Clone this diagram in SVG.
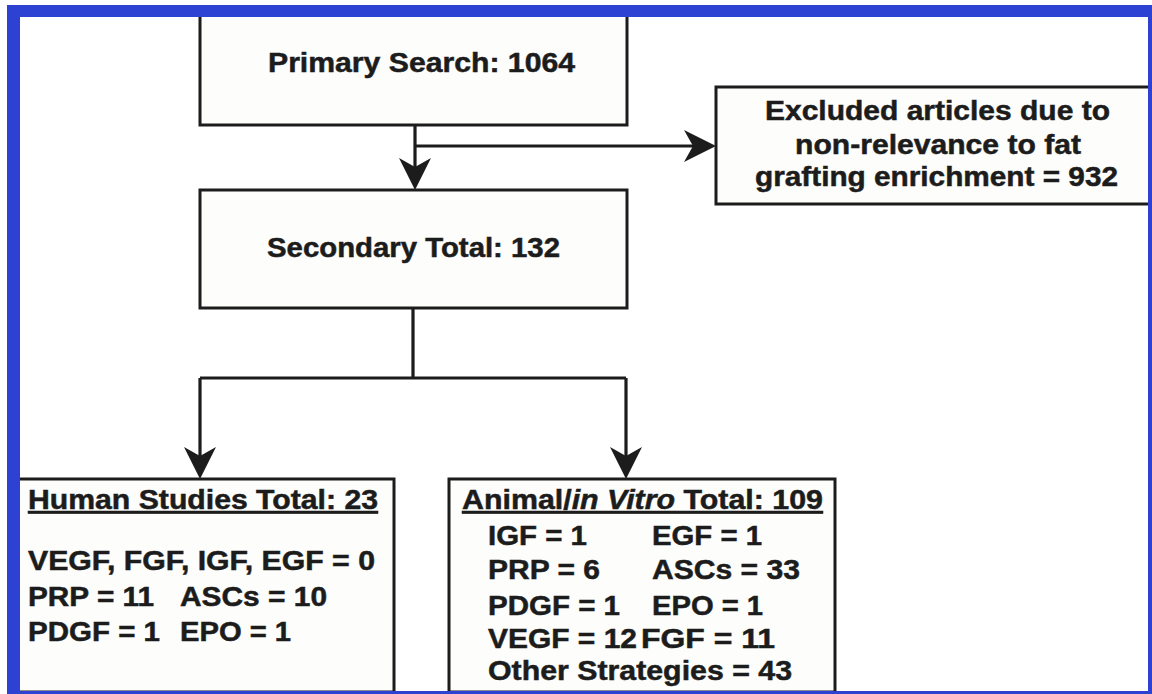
<svg xmlns="http://www.w3.org/2000/svg" width="1152" height="694" viewBox="0 0 1152 694">
<style>
.box{fill:#fdfdfb;stroke:#1c1c1c;stroke-width:3}
.t{font-family:"Liberation Sans",Arial,Helvetica,sans-serif;font-weight:bold;font-size:27px;fill:#1c1c1c;stroke:#1c1c1c;stroke-width:0.5}
.c{stroke:#1c1c1c;stroke-width:3.2;fill:none}
</style>
<defs>
<marker id="ah" markerUnits="userSpaceOnUse" markerWidth="34" markerHeight="34" refX="9" refY="16" orient="auto">
<path d="M0,0 L32,16 L0,32 L9,16 Z" fill="#1c1c1c"/>
</marker>
</defs>
<rect x="0" y="0" width="1152" height="694" fill="#ffffff"/>
<g id="connectors">
<path class="c" d="M415,125 V167" marker-end="url(#ah)"/>
<path class="c" d="M415,146 H693" marker-end="url(#ah)"/>
<path class="c" d="M413,308 V378 M200,378 H626"/>
<path class="c" d="M200,378 V456" marker-end="url(#ah)"/>
<path class="c" d="M626,378 V456" marker-end="url(#ah)"/>
</g>
<g id="primary">
<rect class="box" x="200" y="9" width="427" height="116"/>
<text class="t" x="421.5" y="72" text-anchor="middle" textLength="307" lengthAdjust="spacingAndGlyphs">Primary Search: 1064</text>
</g>
<g id="excluded">
<rect class="box" x="716" y="87" width="436" height="117"/>
<text class="t" x="937.5" y="120" text-anchor="middle" textLength="345" lengthAdjust="spacingAndGlyphs">Excluded articles due to</text>
<text class="t" x="938" y="154" text-anchor="middle" textLength="286" lengthAdjust="spacingAndGlyphs">non-relevance to fat</text>
<text class="t" x="936.5" y="186" text-anchor="middle" textLength="363" lengthAdjust="spacingAndGlyphs">grafting enrichment = 932</text>
</g>
<g id="secondary">
<rect class="box" x="200" y="190" width="427" height="118"/>
<text class="t" x="413.5" y="257" text-anchor="middle" textLength="293" lengthAdjust="spacingAndGlyphs">Secondary Total: 132</text>
</g>
<g id="human">
<rect class="box" x="12" y="479" width="382" height="213"/>
<text class="t" x="28" y="509" textLength="350" lengthAdjust="spacingAndGlyphs" text-decoration="underline">Human Studies Total: 23</text>
<text class="t" x="28" y="570" textLength="347" lengthAdjust="spacingAndGlyphs">VEGF, FGF, IGF, EGF = 0</text>
<text class="t" x="28" y="606" textLength="126" lengthAdjust="spacingAndGlyphs">PRP = 11</text>
<text class="t" x="180" y="606" textLength="147" lengthAdjust="spacingAndGlyphs">ASCs = 10</text>
<text class="t" x="28" y="641" textLength="132" lengthAdjust="spacingAndGlyphs">PDGF = 1</text>
<text class="t" x="180" y="641" textLength="111" lengthAdjust="spacingAndGlyphs">EPO = 1</text>
</g>
<g id="animal">
<rect class="box" x="449" y="479" width="386" height="213"/>
<text class="t" x="462" y="509" textLength="361" lengthAdjust="spacingAndGlyphs" text-decoration="underline">Animal/<tspan font-style="italic">in Vitro</tspan> Total: 109</text>
<text class="t" x="488" y="545" textLength="99" lengthAdjust="spacingAndGlyphs">IGF = 1</text>
<text class="t" x="652" y="545" textLength="110" lengthAdjust="spacingAndGlyphs">EGF = 1</text>
<text class="t" x="488" y="579" textLength="112" lengthAdjust="spacingAndGlyphs">PRP = 6</text>
<text class="t" x="652" y="579" textLength="148" lengthAdjust="spacingAndGlyphs">ASCs = 33</text>
<text class="t" x="488" y="615" textLength="132" lengthAdjust="spacingAndGlyphs">PDGF = 1</text>
<text class="t" x="652" y="615" textLength="111" lengthAdjust="spacingAndGlyphs">EPO = 1</text>
<text class="t" x="488" y="648" textLength="149" lengthAdjust="spacingAndGlyphs">VEGF = 12</text>
<text class="t" x="641" y="648" textLength="134" lengthAdjust="spacingAndGlyphs">FGF = 11</text>
<text class="t" x="488" y="680" textLength="304" lengthAdjust="spacingAndGlyphs">Other Strategies = 43</text>
</g>
<path id="frame" d="M7,5 H1152 V694 H7 Z M20,17 V691 H1148 V17 Z" fill="#2d41d3" fill-rule="evenodd"/>
</svg>
